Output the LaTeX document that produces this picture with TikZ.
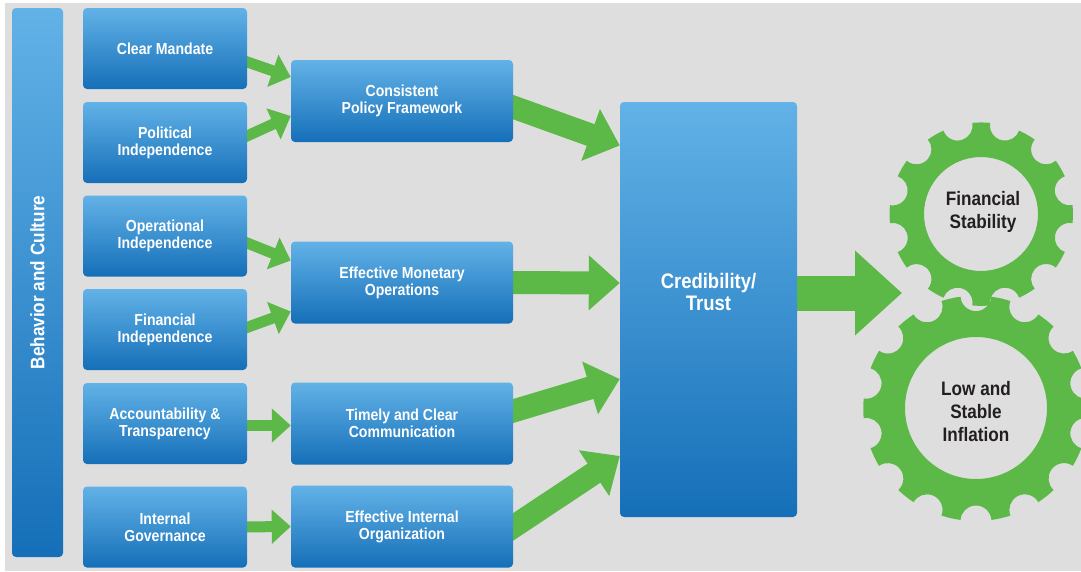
\documentclass[tikz,border=0pt]{standalone}
\usepackage{fontspec}
\setmainfont{Liberation Sans}[FakeStretch=0.88]
\usetikzlibrary{arrows.meta}
\pgfdeclarelayer{under}
\pgfsetlayers{under,main}
\definecolor{bggray}{HTML}{DEDEDF}
\definecolor{leaf}{HTML}{5CB947}
\definecolor{boxtop}{HTML}{62B2E7}
\definecolor{boxmid}{HTML}{3A95D8}
\definecolor{boxbot}{HTML}{156FB8}
\definecolor{gtext}{HTML}{231F20}
\begin{document}
\begin{tikzpicture}[x=1pt,y=-1pt,
  blk/.style={rounded corners=4pt,top color=boxtop,middle color=boxmid,bottom color=boxbot,
    text=white,font=\bfseries\fontsize{16}{17}\selectfont,align=center,inner sep=0pt},
  smbox/.style={blk,minimum width=164pt,minimum height=81pt},
  mdbox/.style={blk,minimum width=222pt,minimum height=82pt},
  smarrow/.style={leaf,line width=11pt,-{Triangle[length=19pt,width=33pt]}},
  bigarrow/.style={leaf,line width=23pt,-{Triangle[length=31pt,width=53pt]}},
  gtxt/.style={text=gtext,font=\bfseries\fontsize{19.5}{23}\selectfont,align=center}]
  \useasboundingbox (0,0) rectangle (1081,571);
  \begin{pgfonlayer}{under}
    \fill[white] (0,0) rectangle (1081,571);
    \fill[bggray] (5,3) rectangle (1081,571);
  \end{pgfonlayer}

  \node[blk,rotate=90,minimum width=549pt,minimum height=51pt,
        font=\bfseries\fontsize{19.5}{21}\selectfont] (BC) at (37.5,282.5) {Behavior and Culture};

  \node[smbox] (CM) at (165,48.5) {Clear Mandate};
  \node[smbox] (PI) at (165,142.5) {Political\\Independence};
  \node[smbox] (OI) at (165,236) {Operational\\Independence};
  \node[smbox] (FI) at (165,329.5) {Financial\\Independence};
  \node[smbox] (AT) at (165,423.5) {Accountability \&\\Transparency};
  \node[smbox] (IG) at (165,527) {Internal\\Governance};

  \node[mdbox] (CPF) at (402,101) {Consistent\\Policy Framework};
  \node[mdbox] (EMO) at (402,282.5) {Effective Monetary\\Operations};
  \node[mdbox] (TCC) at (402,423.5) {Timely and Clear\\Communication};
  \node[mdbox] (EIO) at (402,526.5) {Effective Internal\\Organization};

  \node[blk,minimum width=177pt,minimum height=415pt] (CT) at (708.5,309.5) {};
  \node[text=white,font=\bfseries\fontsize{21}{22}\selectfont,align=center] (CTt) at (708.5,292) {Credibility/\\Trust};

  \coordinate (GA) at (981,214);
  \coordinate (GB) at (976,408);
  \coordinate (G) at (902,293);
  \fill[leaf,even odd rule,shift={(GA)}] (24.4:92)
    \foreach \k in {0,...,11} {
      arc[start angle=15+30*\k+9.4,end angle=45+30*\k-9.4,radius=92]
      arc[start angle=45+30*\k-94.7,end angle=45+30*\k-265.3,radius=15]
    } -- cycle (0,0) circle (57);
  \fill[leaf,even odd rule,shift={(GB)}] (97.9:113)
    \foreach \k in {0,...,13} {
      arc[start angle=90+25.714*\k+7.9,end angle=115.714+25.714*\k-7.9,radius=113]
      arc[start angle=115.714+25.714*\k-93.95,end angle=115.714+25.714*\k-266.05,radius=15.5]
    } -- cycle (0,0) circle (71);
  \node[gtxt] (FS) at (983,212) {Financial\\Stability};
  \node[gtxt] (LSI) at (976,412) {Low and\\Stable\\Inflation};

  \begin{pgfonlayer}{under}
    \draw[smarrow] ([xshift=-10pt,yshift=-10pt]CM.east) -- ([yshift=24pt]CPF.west);
    \draw[smarrow] ([xshift=-10pt,yshift=2pt]PI.east) -- ([yshift=-15pt]CPF.west);
    \draw[smarrow] ([xshift=-10pt,yshift=-3pt]OI.east) -- ([yshift=22pt]EMO.west);
    \draw[smarrow] ([xshift=-10pt,yshift=-1.5pt]FI.east) -- ([yshift=-29pt]EMO.west);
    \draw[smarrow] ([xshift=-10pt,yshift=-2pt]AT.east) -- ([yshift=-2pt]TCC.west);
    \draw[smarrow] ([xshift=-10pt]IG.east) -- (EIO.west);

    \draw[bigarrow] ([xshift=-10pt,yshift=-2.5pt]CPF.east) -- ([yshift=164pt]CT.west);
    \draw[bigarrow] ([xshift=-10pt]EMO.east) -- ([yshift=26.5pt]CT.west);
    \draw[bigarrow] ([xshift=-10pt,yshift=9.5pt]TCC.east) -- ([yshift=-69.5pt]CT.west);
    \draw[bigarrow] ([xshift=-10pt,yshift=-7pt]EIO.east) -- ([yshift=-146.5pt]CT.west);
    \draw[leaf,line width=35pt,-{Triangle[length=47pt,width=82pt]}] ([xshift=-10pt,yshift=16.5pt]CT.east) -- (G);
  \end{pgfonlayer}
\end{tikzpicture}
\end{document}
